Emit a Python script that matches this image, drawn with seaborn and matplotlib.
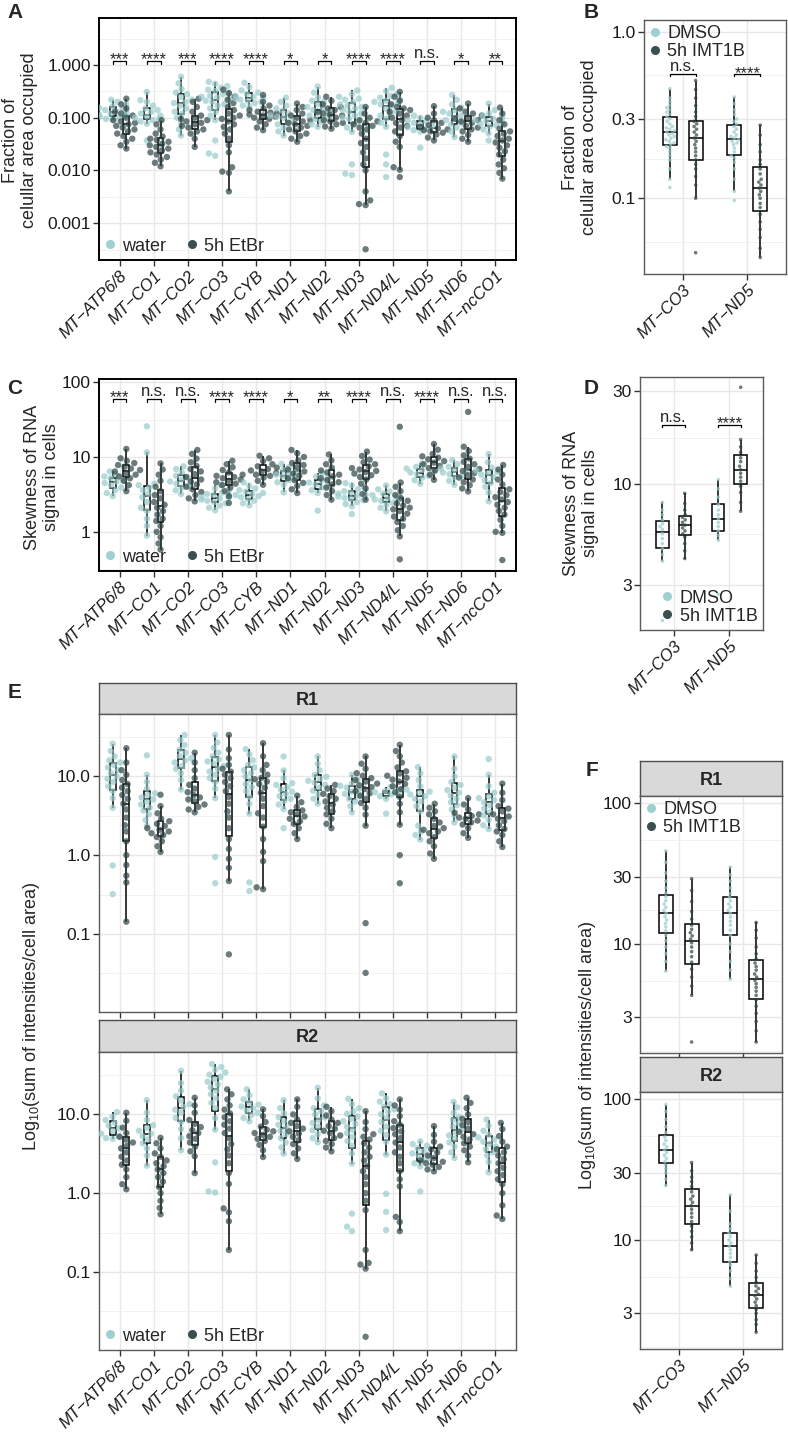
import pandas as pd
import matplotlib.pyplot as plt
from matplotlib.lines import Line2D
from matplotlib.ticker import NullFormatter
import seaborn as sns

sns.set_style("white")
plt.rcParams['font.family'] = ['Liberation Sans', 'DejaVu Sans']
plt.rcParams['mathtext.fontset'] = 'custom'
plt.rcParams['mathtext.rm'] = 'Liberation Sans'

genes = ["MT−ATP6/8", "MT−CO1", "MT−CO2", "MT−CO3", "MT−CYB", "MT−ND1",
         "MT−ND2", "MT−ND3", "MT−ND4/L", "MT−ND5", "MT−ND6", "MT−ncCO1"]
genes_sel = ["MT−CO3", "MT−ND5"]
conds_etbr = ["water", "5h EtBr"]
conds_imt = ["DMSO", "5h IMT1B"]

# A: fraction of cellular area occupied
a_water = [
    [0.092, 0.095, 0.10, 0.105, 0.11, 0.115, 0.12, 0.125, 0.13, 0.14, 0.15, 0.155, 0.165, 0.18, 0.2, 0.22],
    [0.037, 0.077, 0.085, 0.09, 0.095, 0.1, 0.105, 0.11, 0.12, 0.13, 0.14, 0.15, 0.17, 0.2, 0.215, 0.31],
    [0.046, 0.06, 0.08, 0.1, 0.12, 0.13, 0.15, 0.17, 0.19, 0.2, 0.22, 0.25, 0.28, 0.3, 0.35, 0.45, 0.6],
    [0.019, 0.021, 0.037, 0.09, 0.11, 0.13, 0.15, 0.17, 0.18, 0.2, 0.21, 0.22, 0.24, 0.25, 0.26, 0.28,
     0.3, 0.32, 0.34, 0.37, 0.4, 0.44, 0.48],
    [0.16, 0.17, 0.19, 0.2, 0.21, 0.22, 0.23, 0.24, 0.25, 0.26, 0.28, 0.3, 0.33, 0.38, 0.46],
    [0.046, 0.055, 0.065, 0.075, 0.08, 0.09, 0.1, 0.105, 0.11, 0.12, 0.135, 0.15, 0.17, 0.2, 0.24],
    [0.067, 0.075, 0.085, 0.095, 0.1, 0.11, 0.12, 0.13, 0.14, 0.15, 0.16, 0.18, 0.2, 0.21, 0.24, 0.3, 0.39],
    [0.0082, 0.0087, 0.013, 0.054, 0.065, 0.075, 0.085, 0.095, 0.1, 0.11, 0.12, 0.13, 0.14, 0.15, 0.16,
     0.17, 0.18, 0.2, 0.22, 0.23, 0.25, 0.28, 0.33],
    [0.0075, 0.013, 0.02, 0.067, 0.08, 0.095, 0.11, 0.12, 0.13, 0.15, 0.17, 0.18, 0.19, 0.2, 0.21, 0.22,
     0.24, 0.26, 0.28, 0.32, 0.37],
    [0.027, 0.055, 0.058, 0.062, 0.066, 0.07, 0.075, 0.08, 0.085, 0.09, 0.1, 0.11],
    [0.043, 0.055, 0.065, 0.075, 0.08, 0.09, 0.1, 0.11, 0.12, 0.13, 0.14, 0.155, 0.18, 0.22, 0.27],
    [0.037, 0.05, 0.06, 0.068, 0.072, 0.077, 0.082, 0.087, 0.09, 0.095, 0.1, 0.11, 0.12, 0.14, 0.186],
]
a_etbr = [
    [0.026, 0.03, 0.035, 0.04, 0.045, 0.05, 0.055, 0.06, 0.065, 0.07, 0.075, 0.08, 0.085, 0.09, 0.1, 0.11,
     0.12, 0.13, 0.15, 0.18, 0.23],
    [0.012, 0.014, 0.016, 0.018, 0.02, 0.022, 0.024, 0.026, 0.028, 0.03, 0.032, 0.035, 0.038, 0.04, 0.044,
     0.05, 0.06, 0.075, 0.09],
    [0.028, 0.04, 0.05, 0.055, 0.06, 0.065, 0.07, 0.075, 0.08, 0.085, 0.09, 0.095, 0.1, 0.11, 0.13, 0.16,
     0.2, 0.23],
    [0.004, 0.009, 0.0095, 0.0115, 0.022, 0.03, 0.04, 0.05, 0.06, 0.067, 0.075, 0.085, 0.095, 0.1, 0.11,
     0.12, 0.14, 0.16, 0.19, 0.22, 0.25, 0.29, 0.34],
    [0.058, 0.065, 0.075, 0.085, 0.095, 0.1, 0.105, 0.11, 0.115, 0.12, 0.125, 0.13, 0.14, 0.15, 0.17, 0.2, 0.27],
    [0.035, 0.04, 0.045, 0.05, 0.055, 0.06, 0.065, 0.07, 0.075, 0.08, 0.085, 0.09, 0.1, 0.11, 0.12, 0.14,
     0.16, 0.186],
    [0.062, 0.068, 0.075, 0.08, 0.085, 0.09, 0.1, 0.11, 0.115, 0.12, 0.13, 0.14, 0.15, 0.16, 0.18, 0.21, 0.25],
    [0.00032, 0.0022, 0.0023, 0.0027, 0.004, 0.01, 0.013, 0.017, 0.022, 0.028, 0.033, 0.04, 0.05, 0.06,
     0.065, 0.07, 0.075, 0.08, 0.085, 0.09, 0.1, 0.12, 0.16],
    [0.0075, 0.0103, 0.0115, 0.028, 0.035, 0.045, 0.055, 0.065, 0.07, 0.08, 0.09, 0.1, 0.11, 0.12, 0.13,
     0.14, 0.15, 0.16, 0.18, 0.21, 0.25, 0.31],
    [0.037, 0.042, 0.048, 0.052, 0.055, 0.058, 0.06, 0.063, 0.067, 0.072, 0.08, 0.09, 0.1, 0.12, 0.166],
    [0.035, 0.04, 0.047, 0.055, 0.06, 0.065, 0.07, 0.08, 0.085, 0.09, 0.095, 0.1, 0.11, 0.12, 0.13, 0.15, 0.186],
    [0.007, 0.009, 0.011, 0.013, 0.016, 0.02, 0.023, 0.027, 0.03, 0.034, 0.037, 0.04, 0.045, 0.05, 0.055,
     0.062, 0.075, 0.09, 0.12, 0.156],
]
sig_a = ["***", "****", "***", "****", "****", "*", "*", "****", "****", "n.s.", "*", "**"]

# C: skewness of RNA signal in cells
c_water = [
    [3.0, 3.3, 3.6, 3.9, 4.2, 4.5, 4.7, 4.9, 5.2, 5.5, 5.9, 6.4],
    [0.89, 1.2, 1.5, 1.9, 2.1, 2.5, 2.9, 3.2, 3.6, 3.9, 4.2, 4.4, 11.5, 25.7],
    [3.2, 3.6, 3.9, 4.1, 4.4, 4.7, 5.0, 5.3, 5.6, 6.2, 6.9, 7.5],
    [1.94, 2.1, 2.25, 2.4, 2.5, 2.6, 2.7, 2.8, 2.85, 2.9, 3.0, 3.1, 3.2, 3.35, 3.5, 3.8, 4.25],
    [2.26, 2.4, 2.6, 2.75, 2.9, 3.0, 3.1, 3.2, 3.3, 3.45, 3.6, 3.8, 4.1, 4.56],
    [3.37, 4.25, 4.6, 4.9, 5.2, 5.5, 5.8, 6.0, 6.3, 6.7, 7.3, 8.1],
    [1.92, 3.3, 3.6, 3.9, 4.1, 4.3, 4.55, 4.8, 5.1, 5.5, 6.07],
    [1.73, 2.19, 2.35, 2.5, 2.65, 2.75, 2.85, 2.95, 3.05, 3.15, 3.25, 3.35, 3.5, 3.7, 3.95, 4.2, 4.47],
    [1.88, 2.1, 2.3, 2.45, 2.6, 2.7, 2.8, 2.9, 3.0, 3.1, 3.25, 3.45, 3.7, 4.16],
    [4.4, 4.9, 5.3, 5.6, 5.9, 6.2, 6.4, 6.7, 7.0, 7.4, 8.2],
    [4.25, 4.8, 5.3, 5.6, 5.9, 6.2, 6.4, 6.7, 7.0, 7.4, 8.0, 9.1],
    [2.55, 3.37, 4.0, 4.5, 4.9, 5.4, 5.8, 6.1, 6.3, 6.6, 7.2, 8.5, 10.9],
]
c_etbr = [
    [3.5, 4.2, 4.8, 5.2, 5.5, 5.8, 6.1, 6.4, 6.7, 7.0, 7.4, 7.8, 8.3, 8.9, 9.6, 12.8],
    [0.58, 0.7, 0.85, 1.0, 1.2, 1.4, 1.5, 1.7, 1.9, 2.1, 2.3, 2.5, 2.8, 3.1, 3.5, 4.0, 4.8, 5.8, 6.8, 8.2],
    [2.55, 2.8, 3.1, 3.4, 3.7, 4.0, 4.3, 4.7, 5.0, 5.4, 5.9, 6.4, 6.9, 7.6, 8.5, 9.5, 11, 12.4],
    [2.43, 3.0, 3.5, 3.9, 4.2, 4.4, 4.6, 4.8, 5.0, 5.2, 5.4, 5.6, 5.8, 6.2, 6.7, 7.3, 8.0, 8.9],
    [4.25, 4.8, 5.3, 5.6, 5.8, 6.1, 6.4, 6.6, 6.9, 7.2, 7.5, 8.0, 8.8, 9.6, 10.4],
    [3.3, 3.7, 4.1, 4.5, 4.9, 5.2, 5.6, 6.0, 6.4, 6.8, 7.3, 7.8, 8.3, 9.0, 10, 11.2, 12.4],
    [2.69, 3.1, 3.5, 3.9, 4.3, 4.6, 4.9, 5.2, 5.5, 5.8, 6.2, 6.6, 7.2, 8.0, 9.0, 10.8],
    [2.69, 3.2, 3.8, 4.4, 5.0, 5.4, 5.7, 6.0, 6.3, 6.5, 6.8, 7.1, 7.5, 8.0, 8.5, 9.2, 10.3, 11.8],
    [0.43, 0.87, 1.05, 1.2, 1.35, 1.5, 1.6, 1.75, 1.9, 2.0, 2.1, 2.25, 2.4, 2.6, 2.8, 3.1, 3.5, 4.0, 4.56, 25.3],
    [4.95, 5.8, 6.6, 7.1, 7.6, 8.0, 8.4, 8.8, 9.3, 9.8, 10.2, 11, 12.5, 14.9],
    [3.47, 3.8, 4.2, 4.6, 5.0, 5.3, 5.7, 6.1, 6.5, 6.9, 7.4, 8.0, 8.6, 9.5, 10.5, 12, 13.7, 40],
    [0.42, 0.97, 1.0, 1.2, 1.45, 1.7, 1.9, 2.1, 2.3, 2.5, 2.7, 2.9, 3.1, 3.4, 3.7, 4.3, 5.0, 5.8, 6.8, 7.8],
]
sig_c = ["***", "n.s.", "n.s.", "****", "****", "*", "**", "****", "n.s.", "****", "n.s.", "n.s."]

# E: sum of intensities / cell area, replicate R1 and R2
e1_water = [
    [0.32, 0.74, 4.0, 5.3, 6.5, 7.5, 8.5, 9.3, 10, 11, 12, 13, 14, 15, 16, 18, 21, 26],
    [2.33, 2.8, 3.3, 3.7, 4.0, 4.4, 4.8, 5.1, 5.4, 5.8, 6.1, 7.0, 8.5, 10.5, 18.5],
    [6.8, 9, 11, 12.5, 13.5, 15, 16, 17, 18, 20, 22, 25, 29, 33.6],
    [0.44, 0.95, 5.3, 7, 8.5, 9.5, 10.5, 11.5, 12.5, 13.5, 14.5, 15.5, 16.5, 18, 20, 23, 27, 33.6],
    [0.35, 0.45, 3.37, 4.5, 5.5, 6.5, 7.3, 8, 9, 10, 11, 12, 13, 14, 16, 19, 22.2],
    [2.2, 3.86, 4.4, 4.9, 5.2, 5.6, 6.0, 6.4, 6.8, 7.3, 7.8, 8.2, 9.5, 11.9, 17.9],
    [4.5, 5.2, 5.9, 6.6, 7.2, 7.8, 8.3, 8.8, 9.3, 9.9, 10.5, 12, 14.5, 17.9],
    [3.5, 4.2, 4.8, 5.2, 5.6, 6.0, 6.4, 6.8, 7.2, 7.6, 8.1, 9.0, 10.5],
    [3.37, 5.17, 5.6, 5.9, 6.1, 6.3, 6.5, 6.8, 7.3],
    [1.58, 1.8, 2.0, 2.37, 3.6, 4.2, 4.8, 5.2, 5.6, 5.9, 6.2, 6.4, 6.8, 7.5, 9.0, 11, 13.1],
    [2.6, 3.2, 3.8, 4.3, 4.7, 5.2, 5.7, 6.2, 6.7, 7.2, 7.8, 8.5, 10, 12.5, 17.9],
    [2.15, 2.4, 2.8, 3.2, 3.5, 3.9, 4.3, 4.7, 5.0, 5.3, 5.6, 6.2, 7.5, 10.5, 16.6],
]
e1_etbr = [
    [0.143, 0.45, 0.55, 0.75, 1.0, 1.5, 2.0, 2.4, 3.0, 3.8, 4.5, 5.2, 5.8, 6.5, 7.2, 8.0, 9.0, 10.5, 12, 15, 22.8],
    [1.1, 1.3, 1.5, 1.7, 1.8, 1.9, 2.0, 2.1, 2.2, 2.35, 2.5, 2.7, 2.9, 3.4, 4.2, 5.85],
    [3.5, 3.8, 4.1, 4.4, 4.8, 5.1, 5.4, 5.8, 6.3, 7.0, 7.8, 9.5, 12, 15, 20],
    [0.055, 0.47, 0.69, 0.9, 1.2, 1.6, 2.2, 3.0, 3.6, 4.5, 5.5, 6.5, 7.5, 8.5, 9.5, 10.5, 11.5, 12.5, 14,
     17, 22, 33.6],
    [0.37, 0.39, 0.84, 1.1, 1.6, 2.3, 3.0, 3.4, 4.2, 5.2, 6.2, 7.2, 8.0, 8.6, 9.2, 9.6, 10.5, 12, 14, 18, 26.4],
    [1.6, 1.9, 2.2, 2.5, 2.7, 2.9, 3.1, 3.3, 3.5, 3.7, 4.1, 4.7, 5.7],
    [2.2, 2.5, 2.9, 3.3, 3.6, 4.0, 4.4, 4.8, 5.2, 5.6, 6.0, 6.5, 7.0, 7.8],
    [0.032, 0.137, 2.37, 3.27, 4.0, 4.6, 5.2, 5.7, 6.1, 6.5, 6.9, 7.3, 7.7, 8.1, 8.6, 9.0, 9.5, 10.2, 11,
     12.5, 14.5, 17.9],
    [0.44, 1.0, 2.44, 3.5, 4.5, 5.5, 6.3, 6.9, 7.5, 8.0, 8.6, 9.1, 9.6, 10.2, 10.9, 11.6, 13, 15, 18, 21, 25.2],
    [0.9, 1.05, 1.3, 1.5, 1.7, 1.9, 2.0, 2.1, 2.2, 2.35, 2.6, 2.9, 3.3, 3.6, 4.0, 4.5],
    [1.66, 1.9, 2.2, 2.45, 2.6, 2.75, 2.9, 3.0, 3.15, 3.3, 3.45, 3.8, 4.4, 5.3],
    [1.27, 1.5, 1.8, 2.0, 2.15, 2.4, 2.7, 2.9, 3.1, 3.3, 3.6, 3.9, 4.2, 5.0, 6.2, 8.1],
]
e2_water = [
    [4.9, 5.0, 5.3, 5.7, 6.2, 6.7, 7.2, 7.8, 8.5, 9.3, 10.7],
    [2.23, 3.0, 3.7, 4.3, 4.8, 5.3, 5.7, 6.2, 6.8, 7.3, 8.5, 10.5, 15.2],
    [3.5, 5.0, 6.5, 8.0, 9.0, 10.5, 11.5, 12.5, 13.5, 15, 17, 20, 25, 35.8],
    [1.02, 1.05, 2.46, 6.4, 9, 12, 14, 16, 18, 20, 22, 24, 26, 28, 30, 32, 34, 37, 40, 43.6],
    [8.2, 9.0, 9.8, 10.5, 11.2, 12.0, 12.6, 13.3, 14.1, 15.5, 17.5, 20.8],
    [3.18, 3.8, 4.4, 5.0, 5.6, 6.2, 6.8, 7.4, 8.2, 9.2, 10.3, 12, 15.2],
    [4.43, 5.0, 5.6, 6.3, 7.0, 7.8, 8.5, 9.2, 10, 11, 12, 13, 16, 21.8],
    [0.33, 0.375, 0.55, 2.37, 3.2, 4.0, 4.6, 5.2, 5.8, 6.4, 7.0, 7.6, 8.2, 8.8, 9.4, 10.2, 11, 12, 13.5, 15.8],
    [0.34, 0.58, 0.98, 3.09, 4.5, 5.5, 6.2, 7.0, 8.0, 9.0, 10, 10.8, 11.6, 12.5, 13.5, 14.5, 16, 18.5],
    [1.05, 2.19, 2.4, 2.6, 2.8, 3.0, 3.2, 3.4, 3.7, 4.0, 4.2, 4.56],
    [2.8, 3.3, 3.9, 4.4, 4.9, 5.4, 5.9, 6.4, 7.0, 7.7, 8.5, 9.3, 10.5, 12.3, 14.4],
    [1.84, 2.5, 3.0, 3.3, 3.6, 3.9, 4.2, 4.5, 4.8, 5.1, 5.5, 6.2, 7.2, 8.6],
]
e2_etbr = [
    [1.12, 1.3, 1.6, 2.0, 2.3, 2.6, 2.9, 3.3, 3.7, 4.0, 4.4, 4.8, 5.2, 5.8, 6.8, 8.3, 10.5],
    [0.54, 0.65, 0.8, 1.0, 1.2, 1.4, 1.6, 1.8, 2.0, 2.2, 2.4, 2.6, 2.9, 3.2, 3.7, 4.3, 5.04],
    [1.8, 2.94, 3.4, 3.9, 4.4, 4.9, 5.3, 5.8, 6.3, 6.9, 7.6, 8.5, 10.5, 13, 16.3],
    [0.19, 0.44, 0.57, 0.64, 1.31, 1.8, 2.4, 3.0, 3.6, 4.2, 5.0, 5.8, 6.6, 7.4, 8.2, 9.2, 10.3, 11.5, 13,
     15.5, 18, 20.8],
    [2.88, 3.5, 4.1, 4.6, 4.9, 5.2, 5.5, 5.8, 6.1, 6.4, 7.0, 8.0, 9.5, 11.6],
    [2.72, 3.2, 3.7, 4.2, 4.7, 5.2, 5.7, 6.1, 6.6, 7.1, 7.8, 8.6, 10, 12.5, 15.5],
    [3.4, 3.8, 4.2, 4.6, 5.0, 5.4, 5.8, 6.2, 6.6, 7.1, 7.8, 8.6, 9.7, 11, 12.5],
    [0.015, 0.11, 0.124, 0.13, 0.19, 0.61, 0.8, 1.0, 1.3, 1.6, 1.9, 2.2, 2.6, 2.9, 3.3, 3.8, 4.3, 4.8, 5.2,
     5.6, 6.5, 8.0, 11],
    [0.33, 0.43, 0.5, 1.22, 1.5, 1.9, 2.4, 2.9, 3.3, 3.8, 4.4, 5.0, 5.6, 6.1, 6.7, 7.4, 8.2, 9.5, 11.5, 13, 15.5],
    [1.89, 2.0, 2.15, 2.3, 2.4, 2.5, 2.6, 2.8, 3.0, 3.3, 3.6, 3.9, 4.5, 5.5, 7.1],
    [2.46, 3.0, 3.5, 3.9, 4.3, 4.8, 5.2, 5.6, 6.0, 6.6, 7.3, 8.0, 8.8, 10, 12, 14, 16.3],
    [0.47, 0.52, 0.7, 1.0, 1.3, 1.5, 1.7, 1.9, 2.1, 2.4, 2.7, 3.0, 3.3, 3.6, 3.9, 4.5, 5.3, 6.5, 7.8],
]

# B, D, F: IMT1B treatment
b_dmso = [
    [0.116, 0.13, 0.15, 0.17, 0.18, 0.19, 0.2, 0.205, 0.21, 0.215, 0.22, 0.225, 0.23, 0.235, 0.24, 0.245,
     0.25, 0.255, 0.26, 0.265, 0.27, 0.28, 0.29, 0.3, 0.31, 0.32, 0.33, 0.34, 0.35, 0.36, 0.38, 0.4, 0.456],
    [0.097, 0.11, 0.13, 0.15, 0.165, 0.175, 0.18, 0.19, 0.2, 0.21, 0.215, 0.22, 0.225, 0.23, 0.235, 0.24,
     0.25, 0.26, 0.27, 0.28, 0.29, 0.3, 0.32, 0.34, 0.37, 0.406],
]
b_imt = [
    [0.047, 0.1, 0.12, 0.135, 0.15, 0.16, 0.17, 0.18, 0.19, 0.2, 0.21, 0.22, 0.23, 0.24, 0.25, 0.26, 0.27,
     0.28, 0.29, 0.31, 0.33, 0.36, 0.4, 0.45, 0.51],
    [0.044, 0.05, 0.058, 0.065, 0.072, 0.08, 0.088, 0.093, 0.1, 0.105, 0.11, 0.115, 0.12, 0.125, 0.13, 0.14,
     0.15, 0.16, 0.17, 0.19, 0.21, 0.24, 0.275],
]
sig_b = ["n.s.", "****"]

d_dmso = [
    [1.96, 3.97, 4.3, 4.6, 4.9, 5.2, 5.5, 5.8, 6.0, 6.2, 6.5, 6.9, 7.3, 8.0],
    [2.68, 5.1, 5.4, 5.7, 6.0, 6.3, 6.6, 6.9, 7.3, 7.8, 8.5, 9.4, 10.5],
]
d_imt = [
    [4.1, 4.5, 4.9, 5.3, 5.5, 5.7, 5.9, 6.1, 6.3, 6.5, 6.7, 6.9, 7.3, 7.9, 8.9],
    [7.2, 8.0, 9.0, 9.7, 10.3, 10.8, 11.3, 11.8, 12.3, 13.0, 13.6, 14.5, 15.5, 16.9, 31.5],
]
sig_d = ["n.s.", "****"]

f1_dmso = [
    [6.4, 7.5, 8.5, 9.5, 10.5, 11.5, 12.4, 13.2, 14, 14.8, 15.6, 16.5, 17.3, 18.2, 19.2, 20.3, 21.6, 23, 25,
     28, 32, 38, 46],
    [5.6, 6.5, 7.5, 8.8, 10, 11.5, 12.5, 13.6, 14.5, 15.5, 16.5, 17.3, 18.2, 19.2, 20.3, 21.5, 22.8, 25, 28,
     31, 35.2],
]
f1_imt = [
    [2.0, 4.3, 5.0, 5.8, 6.6, 7.4, 8.1, 8.8, 9.5, 10.2, 10.8, 11.4, 12.0, 12.7, 13.6, 15, 17, 20, 24, 29.1],
    [2.0, 2.4, 2.8, 3.2, 3.6, 4.0, 4.3, 4.6, 4.9, 5.2, 5.5, 5.8, 6.1, 6.5, 6.9, 7.3, 7.8, 8.5, 9.5, 11,
     12.5, 14.2],
]
f2_dmso = [
    [24.3, 27, 30, 32, 34, 36, 38, 40, 42, 44, 46, 48, 51, 54, 58, 64, 72, 82, 92],
    [4.66, 5.3, 6.0, 6.6, 7.0, 7.5, 8.0, 8.5, 9.0, 9.5, 10.0, 10.6, 11.2, 12, 13, 16, 20.9],
]
f2_imt = [
    [8.5, 9.5, 10.5, 11.5, 12.5, 13.5, 14.5, 15.5, 16.5, 17.5, 18.5, 19.5, 20.5, 22, 24, 26, 28, 31, 35.5],
    [2.2, 2.5, 2.7, 3.0, 3.2, 3.4, 3.6, 3.8, 4.0, 4.1, 4.3, 4.5, 4.7, 5.0, 5.4, 6.0, 6.8, 7.8],
]

LIGHT = '#98cbcb'
DARK = '#2e4444'
W, H = 788, 1439


def to_long(cats, conds, ctrl, treat):
    rows = []
    for cond, series in zip(conds, [ctrl, treat]):
        for gene, vals in zip(cats, series):
            rows += [(gene, cond, v) for v in vals]
    return pd.DataFrame(rows, columns=['gene', 'cond', 'value'])


def axes_px(left, top, right, bottom):
    return fig.add_axes([left / W, 1 - bottom / H, (right - left) / W, (bottom - top) / H])


def draw(ax, df, cats, conds, ylim, majors, labels, minors, ptsize, gap, dark_frame=False):
    pal = {conds[0]: LIGHT, conds[1]: DARK}
    sns.swarmplot(data=df, x='gene', y='value', hue='cond', order=cats, hue_order=conds,
                  palette=pal, dodge=True, size=ptsize, alpha=0.7, linewidth=0,
                  log_scale=True, legend=False, warn_thresh=1, ax=ax)
    sns.boxplot(data=df, x='gene', y='value', hue='cond', order=cats, hue_order=conds,
                dodge=True, width=0.8, gap=gap, whis=1.5, showfliers=False, showcaps=False,
                log_scale=True, legend=False, ax=ax,
                boxprops=dict(facecolor=(1, 1, 1, 0.5), edgecolor='black', linewidth=1.1),
                medianprops=dict(color='black', linewidth=1.1),
                whiskerprops=dict(color='black', linewidth=1.1))
    ax.set_xlim(-0.6, len(cats) - 0.4)
    ax.set_ylim(*ylim)
    ax.set_yticks(majors, labels=labels)
    ax.set_yticks(minors, minor=True)
    ax.yaxis.set_minor_formatter(NullFormatter())
    ax.set_xlabel('')
    ax.set_ylabel('')
    ax.set_axisbelow(True)
    ax.grid(True, which='major', color='#e8e8e8', lw=1.0)
    ax.yaxis.grid(True, which='minor', color='#f0f0f0', lw=0.6)
    ax.tick_params(which='major', length=4, width=1, color='#333333', labelsize=12.5,
                   labelcolor='#1a1a1a', direction='out', bottom=True, left=True, pad=2)
    ax.tick_params(which='minor', length=0)
    ax.set_xticks(range(len(cats)))
    ax.set_xticklabels(cats, rotation=45, ha='right', va='top', rotation_mode='anchor',
                       style='italic', fontsize=12)
    for sp in ax.spines.values():
        sp.set_color('black' if dark_frame else '#5a5a5a')
        sp.set_linewidth(1.4 if dark_frame else 1.0)


def brackets(ax, labels, y_hi, y_lo, fs=12):
    for i, lab in enumerate(labels):
        ax.plot([i - 0.2, i - 0.2, i + 0.2, i + 0.2], [y_lo, y_hi, y_hi, y_lo], color='black', lw=0.9)
        dy = 2.5 if lab == 'n.s.' else -2.5
        ax.annotate(lab, (i, y_hi), xytext=(0, dy), textcoords='offset points',
                    ha='center', va='baseline', fontsize=fs)


def legend(ax, conds, ncol, **kw):
    handles = [Line2D([], [], marker='o', ls='', color=c, markersize=5.5, label=l)
               for c, l in zip(['#9fd0d0', '#3a5050'], conds)]
    ax.legend(handles=handles, ncol=ncol, frameon=False, fontsize=13, handlelength=0.6,
              handletextpad=0.4, columnspacing=1.1, labelspacing=0.05, borderpad=0.2, **kw)


def strip(left, top, right, bottom, text):
    s = axes_px(left, top, right, bottom)
    s.set_facecolor('#d9d9d9')
    s.set_xticks([])
    s.set_yticks([])
    for sp in s.spines.values():
        sp.set_color('#4d4d4d')
        sp.set_linewidth(1.0)
    s.text(0.5, 0.45, text, ha='center', va='center', fontsize=13, fontweight='bold',
           transform=s.transAxes)


def ftext(x, y, s, **kw):
    fig.text(x / W, 1 - y / H, s, **kw)


fig = plt.figure(figsize=(W / 100, H / 100), dpi=100)

# A
ax = axes_px(99, 18, 516, 260)
draw(ax, to_long(genes, conds_etbr, a_water, a_etbr), genes, conds_etbr, (0.0002, 7.8),
     [0.001, 0.01, 0.1, 1], ['0.001', '0.010', '0.100', '1.000'],
     [10 ** -3.5, 10 ** -2.5, 10 ** -1.5, 10 ** -0.5, 10 ** 0.5], 4.6, 0.575, dark_frame=True)
brackets(ax, sig_a, 1.19, 1.04)
legend(ax, conds_etbr, 2, loc='lower left', borderaxespad=0.1)

# B
ax = axes_px(644, 20, 786, 274)
draw(ax, to_long(genes_sel, conds_imt, b_dmso, b_imt), genes_sel, conds_imt, (0.035, 1.18),
     [0.1, 0.3, 1.0], ['0.1', '0.3', '1.0'], [0.0548, 0.173, 0.548], 2.6, 0.45)
brackets(ax, sig_b, 0.557, 0.54)
legend(ax, conds_imt, 1, loc='upper left', borderaxespad=0.1)

# C
ax = axes_px(99, 379, 516, 571)
draw(ax, to_long(genes, conds_etbr, c_water, c_etbr), genes, conds_etbr, (0.3, 110),
     [1, 10, 100], ['1', '10', '100'], [0.316, 3.16, 31.6], 4.6, 0.575, dark_frame=True)
brackets(ax, sig_c, 59.3, 54.1)
legend(ax, conds_etbr, 2, loc='lower left', borderaxespad=0.1)

# D
ax = axes_px(640, 377, 763, 630)
draw(ax, to_long(genes_sel, conds_imt, d_dmso, d_imt), genes_sel, conds_imt, (1.75, 35.6),
     [3, 10, 30], ['3', '10', '30'], [5.48, 17.3], 2.6, 0.45)
brackets(ax, sig_d, 20.1, 19.7)
legend(ax, conds_imt, 1, loc='lower right', borderaxespad=0.1)

# E
strip(99, 683, 516, 714, 'R1')
ax = axes_px(99, 714, 516, 1012)
draw(ax, to_long(genes, conds_etbr, e1_water, e1_etbr), genes, conds_etbr, (0.0102, 62),
     [0.1, 1, 10], ['0.1', '1.0', '10.0'], [0.0316, 0.316, 3.16, 31.6], 4.6, 0.575)
ax.tick_params(labelbottom=False)
strip(99, 1020, 516, 1052, 'R2')
ax = axes_px(99, 1052, 516, 1350)
draw(ax, to_long(genes, conds_etbr, e2_water, e2_etbr), genes, conds_etbr, (0.0102, 62),
     [0.1, 1, 10], ['0.1', '1.0', '10.0'], [0.0316, 0.316, 3.16, 31.6], 4.6, 0.575)
legend(ax, conds_etbr, 2, loc='lower left', borderaxespad=0.1)

# F
strip(640, 761, 782, 796, 'R1')
ax = axes_px(640, 796, 782, 1053)
draw(ax, to_long(genes_sel, conds_imt, f1_dmso, f1_imt), genes_sel, conds_imt, (1.67, 113),
     [3, 10, 30, 100], ['3', '10', '30', '100'], [1.73, 5.48, 17.3, 54.8], 2.6, 0.45)
ax.tick_params(labelbottom=False)
legend(ax, conds_imt, 1, loc='upper left', borderaxespad=0.1)
strip(640, 1057, 782, 1092, 'R2')
ax = axes_px(640, 1092, 782, 1349)
draw(ax, to_long(genes_sel, conds_imt, f2_dmso, f2_imt), genes_sel, conds_imt, (1.67, 113),
     [3, 10, 30, 100], ['3', '10', '30', '100'], [1.73, 5.48, 17.3, 54.8], 2.6, 0.45)

# axis titles and panel letters
lab = dict(rotation=90, ha='center', va='center', fontsize=13, multialignment='center', linespacing=1.15)
ftext(20, 140, 'Fraction of\ncelullar area occupied', **lab)
ftext(580, 147, 'Fraction of\ncelullar area occupied', **lab)
ftext(42, 477, 'Skewness of RNA\nsignal in cells', **lab)
ftext(581, 503, 'Skewness of RNA\nsignal in cells', **lab)
ftext(32, 1016, 'Log$_{10}$(sum of intensities/cell area)', **lab)
ftext(588, 1055, 'Log$_{10}$(sum of intensities/cell area)', **lab)
for letter, x, y in [('A', 15, 13), ('B', 591, 13), ('C', 15, 388), ('D', 591, 388),
                     ('E', 15, 693), ('F', 592, 771)]:
    ftext(x, y, letter, ha='center', va='center', fontsize=15, fontweight='bold')

plt.savefig('out.png', dpi=100)
plt.close()
